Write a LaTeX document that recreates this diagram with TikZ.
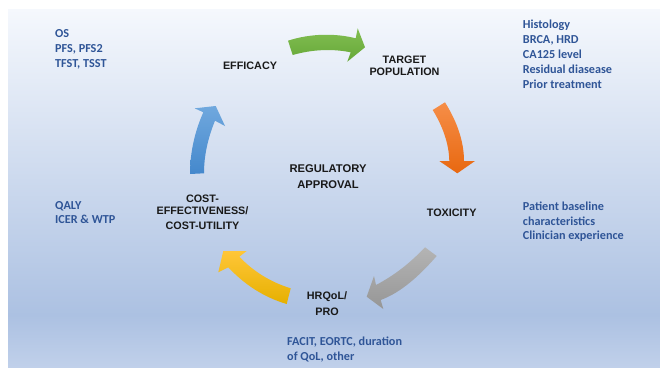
\documentclass[tikz,border=0pt]{standalone}
\usepackage{fontspec}
\usepackage{xcolor}
\setmainfont{Liberation Sans}
\newfontfamily\noteface{Carlito}
\definecolor{notecol}{HTML}{2F5597}
\definecolor{skytop}{HTML}{F5F8FD}
\definecolor{skymid}{HTML}{C9D7EE}
\definecolor{skylow}{HTML}{ACC1E2}
\definecolor{skyend}{HTML}{C0D0EA}
\definecolor{greenhi}{HTML}{82BE52}
\definecolor{greenlo}{HTML}{66A838}
\definecolor{orangehi}{HTML}{F68E48}
\definecolor{orangelo}{HTML}{E86810}
\definecolor{grayhi}{HTML}{B4B4B4}
\definecolor{graylo}{HTML}{969696}
\definecolor{yellowhi}{HTML}{FFC638}
\definecolor{yellowlo}{HTML}{E6B000}
\definecolor{bluehi}{HTML}{70A8DE}
\definecolor{bluelo}{HTML}{4488CC}
\begin{document}
\begin{tikzpicture}[x=1pt,y=-1pt,inner sep=0pt,
    stage/.style={align=center,font=\fontsize{10.8}{11.6}\selectfont\bfseries,text=black!90},
    note/.style={align=left,anchor=west,font=\noteface\fontsize{12.2}{14.8}\selectfont\bfseries,text=notecol},
    swoop/.style 2 args={draw=none,top color=#1,bottom color=#2}]
    \useasboundingbox (0,0) rectangle (660,367);
    \shade[top color=skytop,middle color=skymid,bottom color=skylow] (8,9) rectangle (660,315);
    \shade[top color=skylow,bottom color=skyend] (8,315) rectangle (660,367);
    % arrows
    \shade[swoop={greenhi}{greenlo}]
        (288,40.7) .. controls (310,33.5) and (335,33) .. (355.7,38.3) -- (357.7,28.3) -- (365,47.3)
        -- (347.3,61.7) -- (350.7,52.3) .. controls (332,48.5) and (312,49.5) .. (292.7,55) -- cycle;
    \shade[swoop={orangehi}{orangelo}]
        (445,102.3) .. controls (456,120) and (464,140) .. (464,161) -- (475,161) -- (457.3,173.3)
        -- (439.3,161) -- (449.3,161) .. controls (449,143) and (442,125) .. (432.7,110) -- cycle;
    \shade[swoop={grayhi}{graylo}]
        (425,247.3) .. controls (410,263) and (395,275) .. (376,285) -- (374,276) -- (366.7,296.7)
        -- (383.3,309) -- (380.7,300) .. controls (402,292) and (420,275) .. (436.7,256) -- cycle;
    \shade[swoop={yellowhi}{yellowlo}]
        (223.3,251) -- (246.7,251) -- (239.3,256.7) .. controls (253,271) and (270,282) .. (290.7,288.3)
        -- (286.7,304) .. controls (263,297) and (244,284) .. (228.3,267.3) -- (218.3,272.3) -- cycle;
    \shade[swoop={bluehi}{bluelo}]
        (190,174) .. controls (190,152) and (195,131) .. (203.3,112.3) -- (194.7,108.3) -- (215.7,106)
        -- (225,126) -- (215,120.7) .. controls (208,138) and (204,155) .. (204,173.3) -- cycle;
    % stages
    \node[stage] (efficacy) at (250,65.5) {EFFICACY};
    \node[stage] (target) at (404.5,65.7) {TARGET\\POPULATION};
    \node[stage,font=\fontsize{11.2}{16}\selectfont\bfseries] (approval) at (328,177) {REGULATORY\\APPROVAL};
    \node[stage] (toxicity) at (451.7,212.7) {TOXICITY};
    \node[stage] (cost) at (202.5,212.5) {COST-\\EFFECTIVENESS/\\[4pt]COST-UTILITY};
    \node[stage,font=\fontsize{10.8}{16}\selectfont\bfseries] (hrqol) at (327,303.7) {HRQoL/\\PRO};
    % notes
    \node[note] (efficacynote) at (55,49.5) {OS\\PFS, PFS2\\TFST, TSST};
    \node[note] (targetnote) at (522.7,54.3) {Histology\\BRCA, HRD\\CA125 level\\Residual diasease\\Prior treatment};
    \node[note] (toxicitynote) at (522.7,221.7) {Patient baseline\\characteristics\\Clinician experience};
    \node[note] (costnote) at (55,212.5) {QALY\\ICER \& WTP};
    \node[note] (hrqolnote) at (287,349.8) {FACIT, EORTC, duration\\of QoL, other};
\end{tikzpicture}
\end{document}
